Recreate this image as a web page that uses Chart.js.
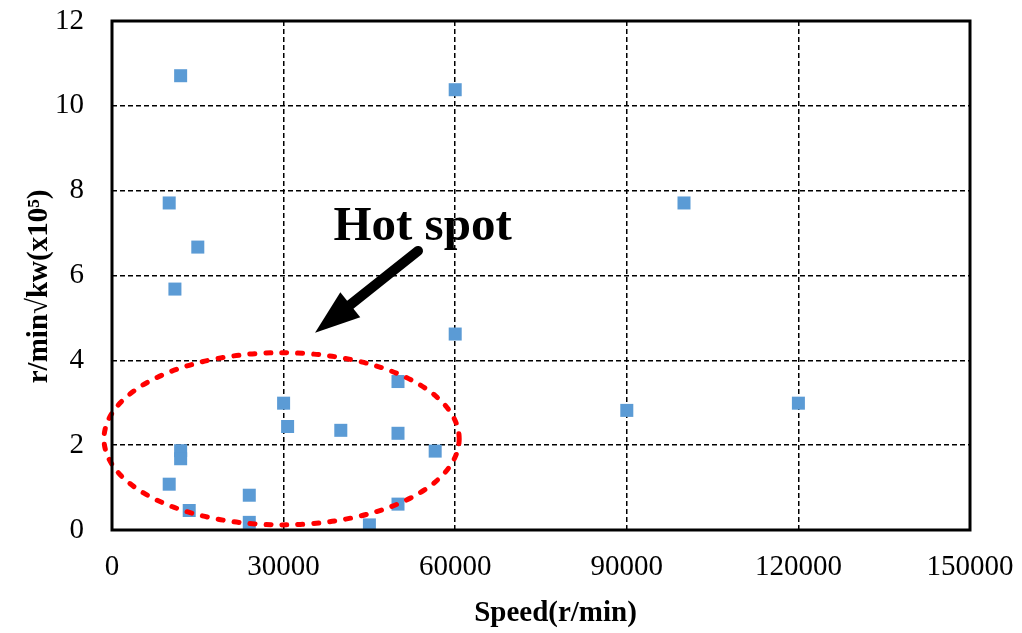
<!DOCTYPE html>
<html>
<head>
<meta charset="utf-8">
<script src="https://cdn.jsdelivr.net/npm/chart.js@4"></script>
<style>
  html, body { margin: 0; padding: 0; background: #fff; }
  #wrap { width: 1022px; height: 633px; position: relative; }
</style>
</head>
<body>
<div id="wrap"><canvas id="speedChart"></canvas></div>
<script>
// data
const speeds = [12000, 60000, 10000, 100000, 15000, 11000, 60000, 50000, 30000, 30700, 40000, 50000, 56500, 12000, 12000, 10000, 13500, 24000, 24000, 45000, 50000, 90000, 120000];
const values = [10.71, 10.38, 7.71, 7.71, 6.67, 5.68, 4.62, 3.50, 2.99, 2.44, 2.35, 2.28, 1.86, 1.87, 1.68, 1.08, 0.46, 0.82, 0.18, 0.12, 0.61, 2.82, 2.99];
const xTickValues = [0, 30000, 60000, 90000, 120000, 150000];
const yTickValues = [0, 2, 4, 6, 8, 10, 12];

// spaces nudge the centred titles a little, like in the original figure
const xTitle = '    Speed(r/min)';
const yTitle = 'r/min\u221Akw(x10\u2075)   ';
const noteText = 'Hot spot';

// annotation geometry (data units)
const hotSpot = { cx: 29650, cy: 2.15, rx: 31050, ry: 2.03 };
const arrow = { fromX: 53500, fromY: 6.58, toX: 35500, toY: 4.65 };
const notePos = { x: 54300, y: 6.84 };

const serif = "'Liberation Serif', 'Times New Roman', serif";
Chart.defaults.color = '#000';

const points = speeds.map((s, i) => ({ x: s, y: values[i] }));

const hotSpotPlugin = {
    id: 'hotSpot',
    afterDatasetsDraw(chart) {
        const { ctx, chartArea, scales: { x, y } } = chart;
        ctx.save();

        // dashed red ellipse
        const cx = x.getPixelForValue(hotSpot.cx);
        const cy = y.getPixelForValue(hotSpot.cy);
        const rx = Math.abs(x.getPixelForValue(hotSpot.cx + hotSpot.rx) - cx);
        const ry = Math.abs(y.getPixelForValue(hotSpot.cy + hotSpot.ry) - cy);
        ctx.strokeStyle = '#ff0000';
        ctx.lineWidth = 5;
        ctx.lineCap = 'round';
        ctx.setLineDash([5, 11]);
        ctx.beginPath();
        ctx.ellipse(cx, cy, rx, ry, 0, 0, Math.PI * 2);
        ctx.stroke();
        ctx.setLineDash([]);

        // arrow
        const x0 = x.getPixelForValue(arrow.fromX), y0 = y.getPixelForValue(arrow.fromY);
        const x1 = x.getPixelForValue(arrow.toX), y1 = y.getPixelForValue(arrow.toY);
        const ang = Math.atan2(y1 - y0, x1 - x0);
        const headLen = 45, headHalf = 16;
        const bx = x1 - headLen * Math.cos(ang), by = y1 - headLen * Math.sin(ang);
        ctx.strokeStyle = '#000';
        ctx.fillStyle = '#000';
        ctx.lineWidth = 10;
        ctx.beginPath();
        ctx.moveTo(x0, y0);
        ctx.lineTo(bx + 4 * Math.cos(ang), by + 4 * Math.sin(ang));
        ctx.stroke();
        ctx.beginPath();
        ctx.moveTo(x1, y1);
        ctx.lineTo(bx + headHalf * Math.sin(ang), by - headHalf * Math.cos(ang));
        ctx.lineTo(bx - headHalf * Math.sin(ang), by + headHalf * Math.cos(ang));
        ctx.closePath();
        ctx.fill();

        // label
        ctx.font = 'bold 49px ' + serif;
        ctx.textAlign = 'center';
        ctx.textBaseline = 'alphabetic';
        ctx.fillText(noteText, x.getPixelForValue(notePos.x), y.getPixelForValue(notePos.y));

        // plot frame
        ctx.lineWidth = 3;
        ctx.lineCap = 'butt';
        ctx.strokeRect(chartArea.left, chartArea.top, chartArea.right - chartArea.left, chartArea.bottom - chartArea.top);
        ctx.restore();
    }
};

new Chart(document.getElementById('speedChart'), {
    type: 'scatter',
    data: {
        datasets: [{
            data: points,
            pointStyle: 'rect',
            pointRadius: 9.2,
            pointHoverRadius: 9.2,
            pointBackgroundColor: '#5b9bd5',
            pointBorderWidth: 0
        }]
    },
    options: {
        responsive: true,
        maintainAspectRatio: false,
        animation: false,
        layout: { padding: { left: 0, top: 21, right: 52, bottom: 0 } },
        plugins: { legend: { display: false }, tooltip: { enabled: false } },
        scales: {
            x: {
                type: 'linear',
                min: 0,
                max: 150000,
                afterBuildTicks: scale => { scale.ticks = xTickValues.map(v => ({ value: v })); },
                afterFit: scale => {
                    scale.height = 103;
                    scale.paddingLeft = 0;
                    scale.paddingRight = 0;
                },
                ticks: {
                    font: { family: serif, size: 29 },
                    padding: 20,
                    maxRotation: 0,
                    callback: v => String(v)
                },
                grid: { color: '#000', lineWidth: 1.5, drawTicks: false },
                border: { display: false, dash: [5, 3] },
                title: {
                    display: true,
                    text: xTitle,
                    font: { family: serif, size: 29, weight: 'bold' },
                    padding: { top: 12, bottom: 2 }
                }
            },
            y: {
                type: 'linear',
                min: 0,
                max: 12,
                afterBuildTicks: scale => { scale.ticks = yTickValues.map(v => ({ value: v })); },
                afterFit: scale => {
                    scale.width = 112;
                    scale.paddingTop = 0;
                    scale.paddingBottom = 0;
                },
                ticks: {
                    font: { family: serif, size: 29 },
                    padding: 28,
                    callback: v => String(v)
                },
                grid: { color: '#000', lineWidth: 1.5, drawTicks: false },
                border: { display: false, dash: [5, 3] },
                title: {
                    display: true,
                    text: yTitle,
                    font: { family: serif, size: 29, weight: 'bold' },
                    padding: { top: 22, bottom: 0 }
                }
            }
        }
    },
    plugins: [hotSpotPlugin]
});
</script>
</body>
</html>
